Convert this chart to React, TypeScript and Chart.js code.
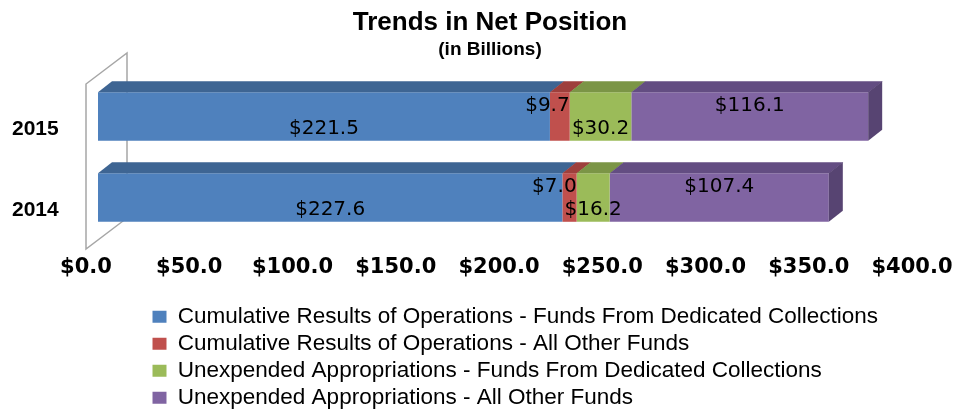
import React, { useEffect, useRef } from 'react';
import { Chart, registerables } from 'chart.js';

Chart.register(...registerables);

// ---- data ----
const categories = ['2015', '2014'];
const seriesNames = [
  'Cumulative Results of Operations - Funds From Dedicated Collections',
  'Cumulative Results of Operations - All Other Funds',
  'Unexpended Appropriations - Funds From Dedicated Collections',
  'Unexpended Appropriations - All Other Funds',
];
const cumulativeDedicated = [221.5, 227.6];
const cumulativeOther = [9.7, 7.0];
const unexpendedDedicated = [30.2, 16.2];
const unexpendedOther = [116.1, 107.4];
const xTickValues = [0, 50, 100, 150, 200, 250, 300, 350, 400];

// ---- style ----
const frontColors = ['#4F81BD', '#C0504D', '#9BBB59', '#8064A2'];
const topColors = ['#3E6593', '#9E3F3C', '#7B9546', '#634D82'];
const sideColor = '#574472';
const labelRowOffset = [12, -11, 12, -11];
const labelAlign: CanvasTextAlign[] = ['center', 'right', 'center', 'center'];

const SANS = "'Liberation Sans', Arial, sans-serif";
const DEJAVU = "'DejaVu Sans', sans-serif";

const FRONT_SHIFT_X = 12;
const FRONT_SHIFT_Y = -13;
const BACK_SCALE = 0.988;
const BAR_DEPTH_X = 14;
const BAR_DEPTH_Y = -11;
const WALL_DEPTH_X = 41;
const WALL_DEPTH_Y = -31;
const LEGEND_LEFT = 148;

const fmt = (v: number) => '$' + v.toFixed(1);

const depthPlugin = {
  id: 'depth3d',
  beforeDatasetsDraw(chart: any) {
    const { ctx, chartArea: a } = chart;
    const ft = a.top - 5;
    const fb = a.bottom - 2;
    ctx.save();
    ctx.beginPath();
    ctx.moveTo(a.left, fb);
    ctx.lineTo(a.left, ft);
    ctx.lineTo(a.left + WALL_DEPTH_X, ft + WALL_DEPTH_Y);
    ctx.lineTo(a.left + WALL_DEPTH_X, fb + WALL_DEPTH_Y);
    ctx.closePath();
    ctx.fillStyle = '#ffffff';
    ctx.fill();
    ctx.strokeStyle = '#A6A6A6';
    ctx.lineWidth = 1.5;
    ctx.stroke();
    ctx.restore();

    ctx.save();
    ctx.translate(a.left + FRONT_SHIFT_X, FRONT_SHIFT_Y);
    ctx.scale(BACK_SCALE, 1);
    ctx.translate(-a.left, 0);
  },
  afterDatasetsDraw(chart: any) {
    const { ctx, chartArea: a } = chart;
    ctx.restore();
    const px = (x: number) => a.left + FRONT_SHIFT_X + (x - a.left) * BACK_SCALE;
    const last = chart.data.datasets.length - 1;
    const items: any[] = [];
    chart.data.datasets.forEach((ds: any, di: number) => {
      const meta = chart.getDatasetMeta(di);
      meta.data.forEach((el: any, i: number) => {
        const { x, y, base, height } = el.getProps(['x', 'y', 'base', 'height'], true);
        const x0 = px(Math.min(base, x));
        const x1 = px(Math.max(base, x));
        const top = y - height / 2 + FRONT_SHIFT_Y;
        const bot = y + height / 2 + FRONT_SHIFT_Y;
        ctx.save();
        ctx.fillStyle = topColors[di];
        ctx.beginPath();
        ctx.moveTo(x0, top);
        ctx.lineTo(x1 + 0.5, top);
        ctx.lineTo(x1 + 0.5 + BAR_DEPTH_X, top + BAR_DEPTH_Y);
        ctx.lineTo(x0 + BAR_DEPTH_X, top + BAR_DEPTH_Y);
        ctx.closePath();
        ctx.fill();
        if (di === last) {
          ctx.fillStyle = sideColor;
          ctx.beginPath();
          ctx.moveTo(x1, top);
          ctx.lineTo(x1 + BAR_DEPTH_X, top + BAR_DEPTH_Y);
          ctx.lineTo(x1 + BAR_DEPTH_X, bot + BAR_DEPTH_Y);
          ctx.lineTo(x1, bot);
          ctx.closePath();
          ctx.fill();
        }
        ctx.restore();
        const v = ds.data[i];
        const align = labelAlign[di];
        items.push({
          text: fmt(v),
          x: align === 'right' ? x1 : (x0 + x1) / 2,
          y: y + FRONT_SHIFT_Y + labelRowOffset[di],
          align,
        });
      });
    });
    ctx.save();
    ctx.fillStyle = '#000000';
    ctx.font = `20px ${DEJAVU}`;
    ctx.textBaseline = 'middle';
    items.forEach((it) => {
      ctx.textAlign = it.align;
      ctx.fillText(it.text, it.x, it.y);
    });
    ctx.restore();
  },
};

const legendPlacePlugin = {
  id: 'legendPlace',
  afterLayout(chart: any) {
    if (chart.legend) {
      chart.legend.left = LEGEND_LEFT;
    }
  },
};

export default function App() {
  const ref = useRef<HTMLCanvasElement | null>(null);

  useEffect(() => {
    if (!ref.current) return;
    Chart.defaults.color = '#000000';
    const seriesValues = [cumulativeDedicated, cumulativeOther, unexpendedDedicated, unexpendedOther];
    const chart = new Chart(ref.current, {
      type: 'bar',
      data: {
        labels: categories,
        datasets: seriesValues.map((vals, i) => ({
          label: seriesNames[i],
          data: vals,
          backgroundColor: frontColors[i],
          borderWidth: 0,
          xAxisID: 'x',
          yAxisID: 'y',
          clip: false as any,
        })),
      },
      options: {
        indexAxis: 'y',
        animation: false,
        responsive: false,
        maintainAspectRatio: false,
        layout: { padding: { left: 25, right: 0, top: 0, bottom: 0 } },
        datasets: { bar: { barPercentage: 0.6, categoryPercentage: 1 } },
        scales: {
          x: {
            stacked: true,
            min: 0,
            max: 400,
            grid: { display: false },
            border: { display: false },
            afterBuildTicks: (s: any) => {
              s.ticks = xTickValues.map((v) => ({ value: v }));
            },
            afterFit: (s: any) => {
              s.height = 50;
            },
            ticks: {
              padding: -4,
              maxRotation: 0,
              autoSkip: false,
              font: { family: DEJAVU, size: 21, weight: 'bold' },
              color: '#000000',
              callback: (v: any) => fmt(Number(v)),
            },
          },
          y: {
            stacked: true,
            grid: { display: false },
            border: { display: false },
            afterFit: (s: any) => {
              s.width = 61;
            },
            ticks: {
              mirror: true,
              padding: -74,
              font: { family: SANS, size: 21, weight: 'bold' },
              color: '#000000',
            },
          },
          y2: {
            type: 'linear',
            position: 'right',
            display: true,
            grid: { display: false },
            border: { display: false },
            ticks: { display: false },
            afterFit: (s: any) => {
              s.width = 43;
            },
          },
        },
        plugins: {
          title: {
            display: true,
            text: 'Trends in Net Position',
            color: '#000000',
            font: { family: SANS, size: 26, weight: 'bold' },
            padding: { top: 7, bottom: 0 },
          },
          subtitle: {
            display: true,
            text: '(in Billions)',
            color: '#000000',
            font: { family: SANS, size: 19, weight: 'bold' },
            padding: { top: 0, bottom: 28 },
          },
          legend: {
            display: true,
            position: 'bottom',
            align: 'start',
            maxHeight: 111,
            labels: {
              color: '#000000',
              font: { family: SANS, size: 22.5 },
              boxWidth: 14,
              boxHeight: 12,
              padding: 4.5,
            },
          },
          tooltip: { enabled: false },
        },
      } as any,
      plugins: [depthPlugin, legendPlacePlugin],
    });
    return () => chart.destroy();
  }, []);

  return (
    <div style={{ position: 'absolute', left: 0, top: 0, width: 955, height: 412, background: '#ffffff' }}>
      <canvas ref={ref} width={955} height={412} style={{ display: 'block' }} />
    </div>
  );
}
